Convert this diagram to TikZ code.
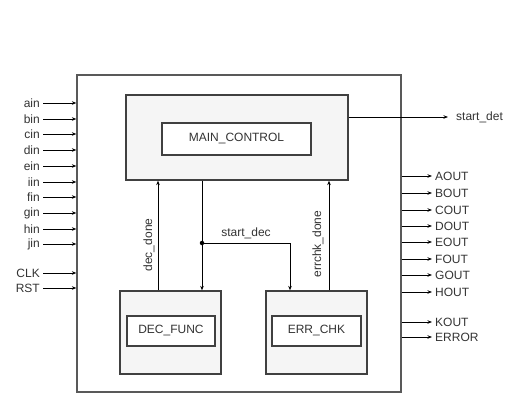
\documentclass[tikz,border=0pt]{standalone}
\usepackage{fontspec}
\setmainfont{Liberation Sans}
\usetikzlibrary{arrows.meta}
\begin{document}
\begin{tikzpicture}[x=1pt,y=-1pt,
  lbl/.style={font=\fontsize{12}{14}\selectfont, text=black!80, inner sep=0pt},
  outerbox/.style={draw=black!65, line width=1.3pt, rectangle, inner sep=0pt},
  block/.style={draw=black!75, line width=1.3pt, fill=black!4, rectangle, inner sep=0pt},
  inbox/.style={draw=black!75, line width=1.2pt, fill=white, rectangle, inner sep=0pt,
    font=\fontsize{12}{14}\selectfont, text=black!80},
  sig/.style={draw=black, line width=0.8pt, -{Stealth[length=4.5pt,width=3.5pt]}},
  dot/.style={circle, fill=black, inner sep=0pt, minimum size=4.5pt},
]
\useasboundingbox (0,0) rectangle (512,396);

% containers
\node[outerbox, minimum width=324pt, minimum height=317pt] (outer) at (239,233.5) {};
\node[block, minimum width=222pt, minimum height=85pt] (main) at (237,137.5) {};
\node[inbox, minimum width=149pt, minimum height=32pt] (mainc) at (236.5,139) {MAIN\_CONTROL};
\node[block, minimum width=101pt, minimum height=83pt] (dec) at (170.5,332.5) {};
\node[inbox, minimum width=88pt, minimum height=30pt] (decf) at (171,331) {DEC\_FUNC};
\node[block, minimum width=101pt, minimum height=83pt] (err) at (316.5,332.5) {};
\node[inbox, minimum width=89pt, minimum height=30pt] (errc) at (316.5,331) {ERR\_CHK};

% inputs
\foreach \t/\yy [count=\i] in {ain/103, bin/119, cin/134, din/150, ein/166, iin/182,
    fin/197, gin/213, hin/229, jin/244, CLK/273, RST/288} {
  \coordinate (in\i) at (43,\yy);
  \node[lbl, anchor=east] (inl\i) at (40,\yy) {\t};
  \draw[sig] (in\i) -- (in\i -| outer.west);
}

% outputs
\foreach \t/\yy [count=\i] in {AOUT/176, BOUT/193, COUT/210, DOUT/226, EOUT/242,
    FOUT/259, GOUT/275, HOUT/292, KOUT/322, ERROR/337} {
  \coordinate (out\i) at (432,\yy);
  \node[lbl, anchor=west] (outl\i) at (435,\yy) {\t};
  \draw[sig] (out\i -| outer.east) -- (out\i);
}

% start_det
\coordinate (sdet) at (448,117);
\draw[sig] (sdet -| main.east) -- (sdet);
\node[lbl, anchor=west] (sdetl) at (456,117) {start\_det};

% internal signals
\coordinate (xd) at (158,0);
\coordinate (xe) at (329,0);
\node[dot] (j) at (202,243) {};
\coordinate (sd) at (290,243);
\draw[sig] (dec.north -| xd) -- (main.south -| xd);
\draw[sig] (main.south -| j) -- (dec.north -| j);
\draw[sig] (j.center) -- (sd) -- (err.north -| sd);
\draw[sig] (err.north -| xe) -- (main.south -| xe);

\node[lbl, rotate=90] (ldd) at (149,245) {dec\_done};
\node[lbl, rotate=90] (led) at (318,244) {errchk\_done};
\node[lbl, anchor=south] (lsd) at (246,239) {start\_dec};
\end{tikzpicture}
\end{document}
